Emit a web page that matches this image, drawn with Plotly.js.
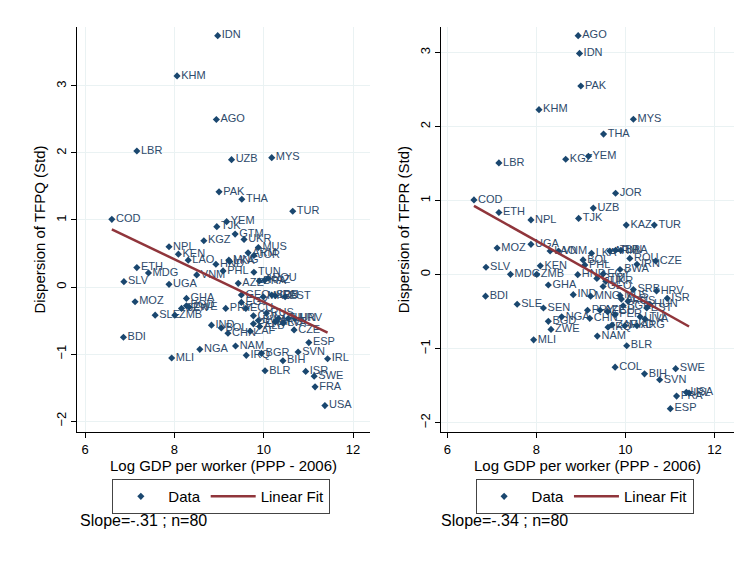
<!DOCTYPE html>
<html>
<head>
<meta charset="utf-8">
<script src="https://cdn.plot.ly/plotly-3.0.1.min.js"></script>
<style>html,body{margin:0;padding:0;background:#fff;}#chart{width:749px;height:561px;}</style>
</head>
<body>
<div id="chart"></div>
<script>
const countries = ["IDN","KHM","AGO","LBR","UZB","MYS","PAK","THA","TUR","COD",
  "YEM","TJK","GTM","KGZ","UKR","MUS","ARM","JOR","NPL","KEN",
  "LAO","HND","MNG","PHL","VNM","TUN","ROU","BRA","AZE","ETH",
  "MDG","SLV","UGA","MOZ","GHA","SLE","ZMB","SEN","BGD","ZWE",
  "PRY","ECU","EGY","GEO","COL","IND","BOL","CHN","BDI","PER",
  "CZE","ESP","NAM","NGA","MLI","IRQ","BGR","BIH","SVN","IRL",
  "BLR","ISR","SWE","FRA","USA","KAZ","IRN","BWA","LKA","SRB",
  "HRV","EST","LTU","MKD","ARG","RUS","LVA","HUN","ALB","ZAF"];
const logGdp = [8.97,8.06,8.94,7.16,9.28,10.18,9.00,9.51,10.65,6.60,
  9.17,8.95,9.36,8.66,9.56,9.88,9.65,9.78,7.88,8.09,
  8.31,8.93,9.22,9.09,8.50,9.78,10.10,9.90,9.43,7.16,
  7.42,6.87,7.88,7.12,8.27,7.57,8.01,8.16,8.27,8.33,
  9.15,9.60,9.50,9.50,9.77,8.83,9.05,9.20,6.86,9.77,
  10.68,11.01,9.37,8.57,7.94,9.61,9.95,10.43,10.77,11.43,
  10.03,10.94,11.13,11.15,11.37,10.02,10.26,9.88,9.24,10.18,
  10.70,10.48,10.33,9.99,10.26,10.06,10.44,10.55,9.91,9.70];
const tfpq = [3.75,3.15,2.50,2.03,1.90,1.93,1.42,1.31,1.13,1.01,
  0.975,0.90,0.79,0.69,0.71,0.59,0.51,0.47,0.60,0.49,
  0.40,0.34,0.40,0.24,0.18,0.22,0.13,0.09,0.055,0.29,
  0.21,0.08,0.04,-0.22,-0.17,-0.42,-0.42,-0.32,-0.28,-0.30,
  -0.32,-0.32,-0.23,-0.12,-0.43,-0.57,-0.61,-0.69,-0.75,-0.55,
  -0.64,-0.83,-0.88,-0.93,-1.06,-1.02,-0.99,-1.10,-0.97,-1.07,
  -1.25,-1.26,-1.33,-1.49,-1.77,0.10,-0.13,-0.50,0.38,-0.12,
  -0.47,-0.145,-0.47,-0.145,-0.52,-0.39,-0.54,-0.47,-0.59,-0.66];
const tfpr = [2.99,2.23,3.23,1.51,0.90,2.10,2.55,1.90,0.67,1.01,
  1.60,0.76,-0.05,1.56,-0.09,-0.28,0.32,1.10,0.74,0.12,
  0.32,0.00,-0.29,0.13,0.32,0.33,0.22,0.33,-0.48,0.84,
  0.005,0.10,0.41,0.36,-0.14,-0.40,0.005,-0.45,-0.63,-0.74,
  -0.48,-0.50,0.01,-0.16,-1.25,-0.27,0.20,-0.59,-0.29,-0.54,
  0.185,-1.81,-0.83,-0.57,-0.88,-0.71,-0.42,-1.34,-1.42,-1.60,
  -0.96,-0.32,-1.27,-1.64,-1.59,0.67,0.14,0.07,0.29,-0.20,
  -0.22,-0.45,-0.57,-0.69,-0.69,-0.36,-0.60,-0.40,-0.33,-0.68];
const fitXQ = [6.60, 11.43], fitYQ = [0.86, -0.68];
const fitXR = [6.60, 11.43], fitYR = [0.93, -0.70];
const xTicks = [6, 8, 10, 12];
const yTicks = [-2, -1, 0, 1, 2, 3];
const slopeTexts = ["Slope=-.31 ; n=80", "Slope=-.34 ; n=80"];

const navy = '#1a476f', maroon = '#90353b', grid = '#eaf2f3';
const FONT = 'Arial, "Liberation Sans", sans-serif';

function panel(yvals, fx, fy, xa, ya, leg) {
  return [
    {x: logGdp, y: yvals, text: countries, mode: 'markers+text', type: 'scatter',
     xaxis: xa, yaxis: ya, showlegend: false, hoverinfo: 'skip',
     marker: {symbol: 'diamond', size: 5, color: navy, opacity: 0},
     textposition: 'middle right', textfont: {family: FONT, size: 11, color: '#2e4a6b'}, cliponaxis: false},
    {x: logGdp, y: yvals, name: 'Data', mode: 'markers', type: 'scatter',
     xaxis: xa, yaxis: ya, legend: leg,
     marker: {symbol: 'diamond', size: 5.5, color: navy}},
    {x: fx, y: fy, name: 'Linear Fit', mode: 'lines', type: 'scatter',
     xaxis: xa, yaxis: ya, legend: leg,
     line: {color: maroon, width: 2.5}}
  ];
}

const data = [].concat(
  panel(tfpq, fitXQ, fitYQ, 'x', 'y', 'legend'),
  panel(tfpr, fitXR, fitYR, 'x2', 'y2', 'legend2')
);

function xaxisCfg(dom, rng, anchor) {
  return {domain: dom, range: rng, anchor: anchor, tickvals: xTicks, ticks: 'outside', ticklen: 5,
    tickcolor: '#000', showline: true, linecolor: '#000', linewidth: 1, showgrid: true, gridcolor: grid,
    zeroline: false, automargin: false, tickfont: {family: FONT, size: 13, color: '#000'},
    title: {text: 'Log GDP per worker (PPP - 2006)', font: {family: FONT, size: 15, color: '#000'}, standoff: 0}};
}
function yaxisCfg(dom, rng, anchor, title) {
  return {domain: dom, range: rng, anchor: anchor, tickvals: yTicks, ticks: 'outside', ticklen: 5,
    tickcolor: '#000', showline: true, linecolor: '#000', linewidth: 1, showgrid: true, gridcolor: grid,
    zeroline: false, automargin: false, tickangle: -90, tickfont: {family: FONT, size: 13, color: '#000'},
    title: {text: title, font: {family: FONT, size: 15, color: '#000'}, standoff: 4}};
}
function legendCfg(x) {
  return {x: x, y: 0.146, xanchor: 'left', yanchor: 'top', orientation: 'h',
    bordercolor: '#444', borderwidth: 1, bgcolor: '#fff', itemwidth: 45,
    font: {family: FONT, size: 15, color: '#000'}};
}

const layout = {
  width: 749, height: 561,
  margin: {l: 0, r: 0, t: 0, b: 0, autoexpand: false},
  paper_bgcolor: '#fff', plot_bgcolor: '#fff',
  font: {family: FONT},
  xaxis: xaxisCfg([0.1028, 0.494], [5.82, 12.38], 'y'),
  yaxis: yaxisCfg([0.2299, 0.9519], [-2.164, 3.88], 'x', 'Dispersion of TFPQ (Std)'),
  xaxis2: xaxisCfg([0.5888, 0.98], [5.86, 12.44], 'y2'),
  yaxis2: yaxisCfg([0.2299, 0.9519], [-2.126, 3.347], 'x2', 'Dispersion of TFPR (Std)'),
  legend: legendCfg(0.150),
  legend2: legendCfg(0.635),
  annotations: [
    {text: slopeTexts[0], xref: 'paper', yref: 'paper', x: 78/749, y: 41/561, xanchor: 'left', yanchor: 'middle', showarrow: false, font: {family: FONT, size: 16, color: '#000'}},
    {text: slopeTexts[1], xref: 'paper', yref: 'paper', x: 439/749, y: 41/561, xanchor: 'left', yanchor: 'middle', showarrow: false, font: {family: FONT, size: 16, color: '#000'}}
  ]
};

Plotly.newPlot('chart', data, layout, {staticPlot: true, displayModeBar: false});
</script>
</body>
</html>
